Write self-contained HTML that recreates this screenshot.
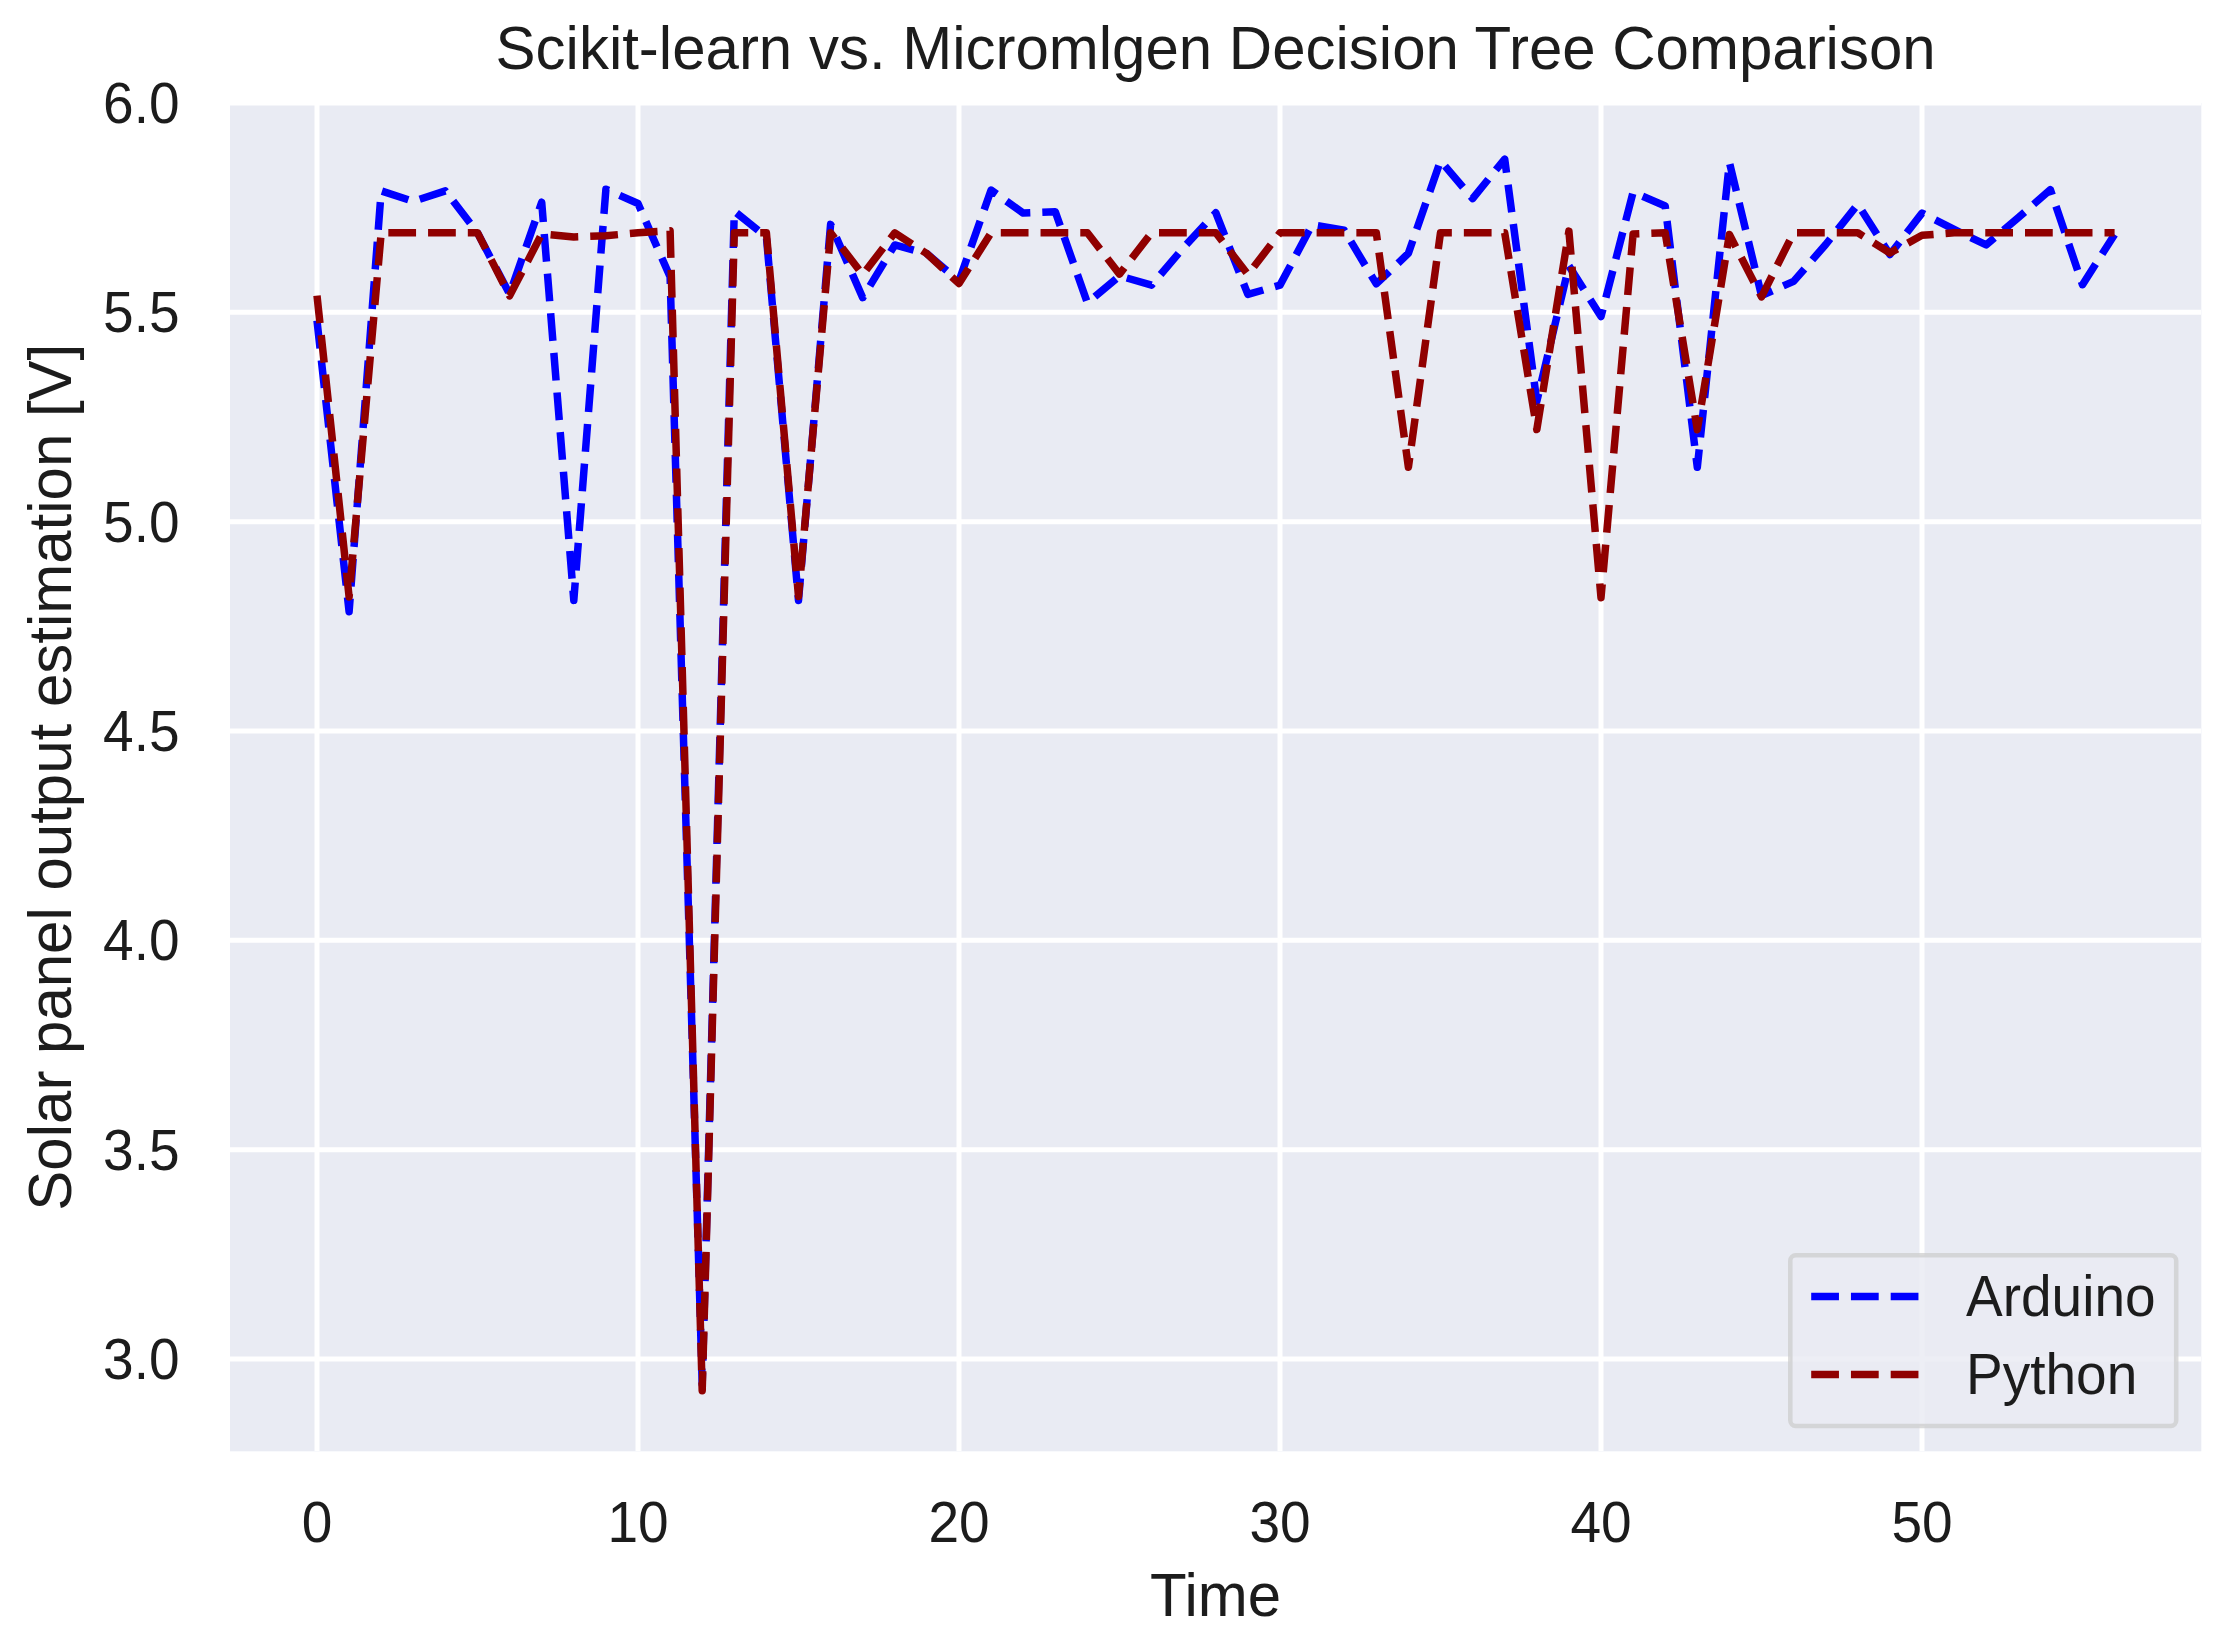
<!DOCTYPE html>
<html lang="en"><head><meta charset="utf-8"><title>Scikit-learn vs. Micromlgen Decision Tree Comparison</title>
<style>html,body{margin:0;padding:0;background:#fff;}svg{display:block;}text{font-family:'Liberation Sans', Arial, Helvetica, sans-serif;fill:#1c1c1c;}</style></head><body>
<svg width="2230" height="1644" viewBox="0 0 2230 1644">
<rect x="0" y="0" width="2230" height="1644" fill="#ffffff"/>
<defs><clipPath id="ax"><rect x="230.0" y="103.0" width="1971.3" height="1348.3"/></clipPath></defs>
<rect x="230.0" y="103.0" width="1971.3" height="1348.3" fill="#e9ebf3"/>
<g clip-path="url(#ax)" stroke="#ffffff" stroke-width="5" stroke-linecap="butt">
<line x1="317.0" y1="103.0" x2="317.0" y2="1451.3"/>
<line x1="638.0" y1="103.0" x2="638.0" y2="1451.3"/>
<line x1="959.0" y1="103.0" x2="959.0" y2="1451.3"/>
<line x1="1280.0" y1="103.0" x2="1280.0" y2="1451.3"/>
<line x1="1601.0" y1="103.0" x2="1601.0" y2="1451.3"/>
<line x1="1922.0" y1="103.0" x2="1922.0" y2="1451.3"/>
<line x1="230.0" y1="1359.0" x2="2201.3" y2="1359.0"/>
<line x1="230.0" y1="1149.7" x2="2201.3" y2="1149.7"/>
<line x1="230.0" y1="940.3" x2="2201.3" y2="940.3"/>
<line x1="230.0" y1="731.0" x2="2201.3" y2="731.0"/>
<line x1="230.0" y1="521.7" x2="2201.3" y2="521.7"/>
<line x1="230.0" y1="312.3" x2="2201.3" y2="312.3"/>
<line x1="230.0" y1="103.0" x2="2201.3" y2="103.0"/>
</g>
<g clip-path="url(#ax)" fill="none" stroke-width="7.5" stroke-linejoin="round" stroke-linecap="butt" stroke-dasharray="27.75 12">
<polyline stroke="#0000ff" points="317.00,320.71 349.10,611.68 381.20,190.92 413.30,201.39 445.40,190.92 477.50,232.79 509.60,294.16 541.70,202.22 573.80,600.38 605.90,189.25 638.00,203.48 670.10,276.75 702.20,1384.51 734.30,211.18 766.40,236.97 798.50,600.46 830.60,224.37 862.70,297.68 894.80,244.93 926.90,253.72 959.00,280.93 991.10,190.08 1023.20,213.11 1055.30,211.85 1087.40,302.87 1119.50,275.91 1151.60,285.12 1183.70,247.44 1215.80,212.69 1247.90,294.46 1280.00,285.12 1312.10,224.83 1344.20,230.28 1376.30,283.87 1408.40,253.30 1440.50,160.78 1472.60,198.58 1504.70,159.10 1536.80,401.30 1568.90,265.86 1601.00,316.52 1633.10,192.18 1665.20,205.99 1697.30,467.33 1729.40,162.45 1761.50,295.59 1793.60,281.35 1825.70,244.51 1857.80,204.32 1889.90,254.56 1922.00,213.11 1954.10,229.44 1986.20,244.93 2018.30,217.72 2050.40,189.66 2082.50,284.70 2114.60,234.46"/>
<polyline stroke="#900000" points="317.00,295.59 349.10,596.95 381.20,232.79 413.30,232.79 445.40,232.79 477.50,232.79 509.60,295.84 541.70,234.04 573.80,236.97 605.90,235.72 638.00,232.79 670.10,230.69 702.20,1390.66 734.30,232.79 766.40,232.79 798.50,596.49 830.60,232.79 862.70,274.65 894.80,232.79 926.90,253.72 959.00,283.53 991.10,232.79 1023.20,232.79 1055.30,232.79 1087.40,232.79 1119.50,274.15 1151.60,232.79 1183.70,232.79 1215.80,232.79 1247.90,274.57 1280.00,232.79 1312.10,232.79 1344.20,232.79 1376.30,232.79 1408.40,467.33 1440.50,232.79 1472.60,232.79 1504.70,232.79 1536.80,429.56 1568.90,231.11 1601.00,597.66 1633.10,234.04 1665.20,232.79 1697.30,429.73 1729.40,234.46 1761.50,296.84 1793.60,232.79 1825.70,232.79 1857.80,232.79 1889.90,253.01 1922.00,235.30 1954.10,232.79 1986.20,232.79 2018.30,232.79 2050.40,232.79 2082.50,232.79 2114.60,232.79"/>
</g>
<g font-size="55px" text-anchor="middle">
<text transform="translate(317.0,1542) scale(1,1.04)">0</text>
<text transform="translate(638.0,1542) scale(1,1.04)">10</text>
<text transform="translate(959.0,1542) scale(1,1.04)">20</text>
<text transform="translate(1280.0,1542) scale(1,1.04)">30</text>
<text transform="translate(1601.0,1542) scale(1,1.04)">40</text>
<text transform="translate(1922.0,1542) scale(1,1.04)">50</text>
</g>
<g font-size="55px" text-anchor="end">
<text transform="translate(179.5,1378.9) scale(1,1.04)">3.0</text>
<text transform="translate(179.5,1169.6) scale(1,1.04)">3.5</text>
<text transform="translate(179.5,960.2) scale(1,1.04)">4.0</text>
<text transform="translate(179.5,750.9) scale(1,1.04)">4.5</text>
<text transform="translate(179.5,541.6) scale(1,1.04)">5.0</text>
<text transform="translate(179.5,332.2) scale(1,1.04)">5.5</text>
<text transform="translate(179.5,122.9) scale(1,1.04)">6.0</text>
</g>
<text transform="translate(1215.6,69.3) scale(1,1.03)" font-size="60px" text-anchor="middle">Scikit-learn vs. Micromlgen Decision Tree Comparison</text>
<text transform="translate(1215.6,1615.5) scale(1,1.03)" font-size="60px" text-anchor="middle">Time</text>
<text transform="translate(70.6,777.2) rotate(-90) scale(1,1.03)" font-size="60px" text-anchor="middle">Solar panel output estimation [V]</text>
<rect x="1790.3" y="1255.2" width="385.9" height="170.7" rx="5.5" ry="5.5" fill="#e9ebf3" fill-opacity="0.84" stroke="#cccccc" stroke-opacity="0.72" stroke-width="4.5"/>
<g fill="none" stroke-width="7.5" stroke-dasharray="27.75 12">
<line x1="1811.2" y1="1296.4" x2="1921.2" y2="1296.4" stroke="#0000ff"/>
<line x1="1811.2" y1="1374.4" x2="1921.2" y2="1374.4" stroke="#900000"/>
</g>
<text transform="translate(1966,1315.6) scale(1,1.03)" font-size="55px">Arduino</text>
<text transform="translate(1966,1393.8) scale(1,1.03)" font-size="55px">Python</text>
</svg></body></html>
